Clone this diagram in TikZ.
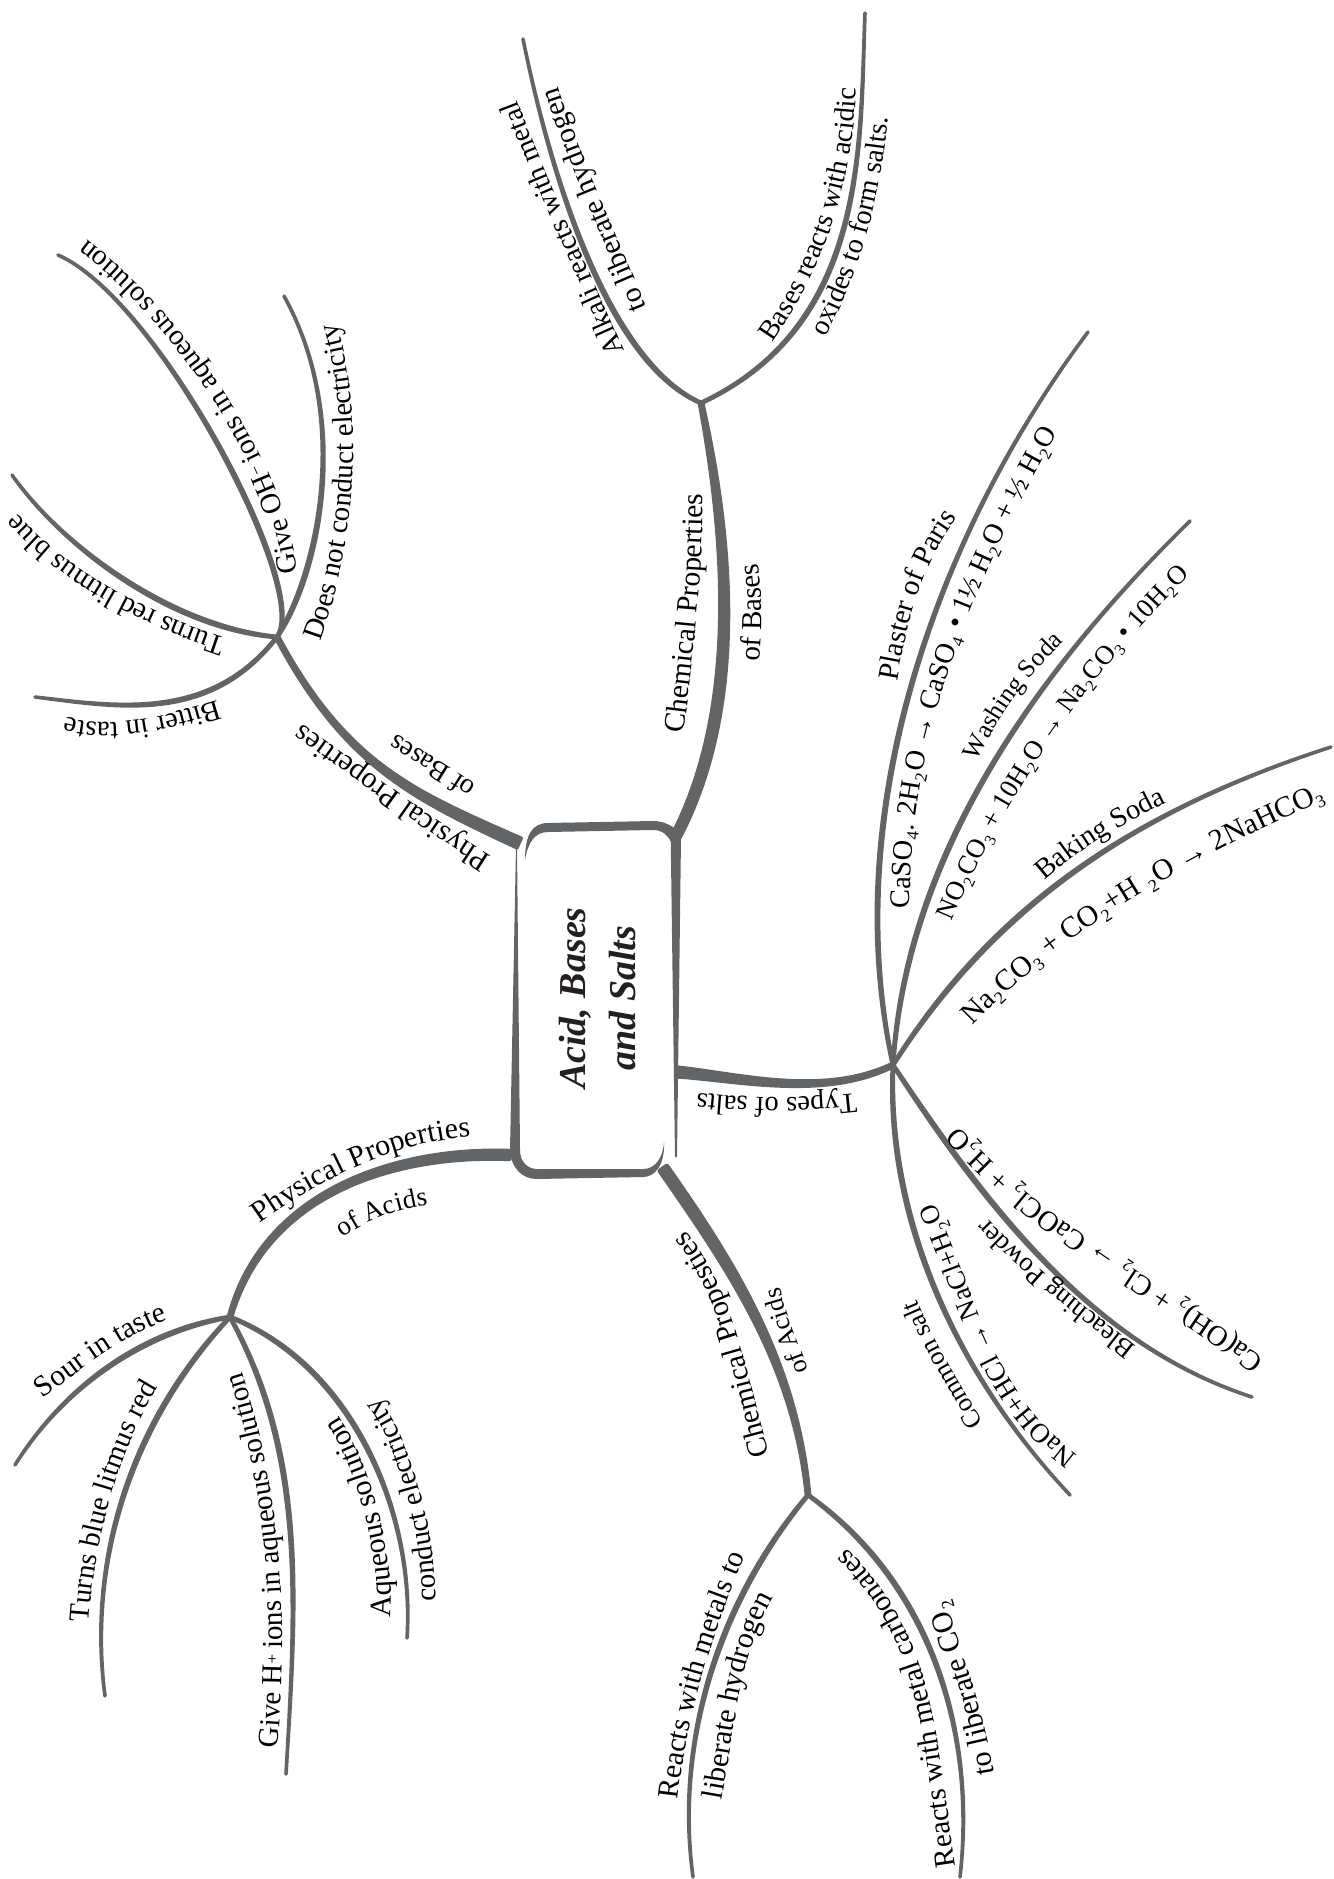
\documentclass[tikz,border=0pt]{standalone}
\usepackage{fontspec}
\setmainfont{Liberation Serif}
\newfontfamily\supfont{DejaVu Serif}
\usetikzlibrary{calc,decorations.text}
\definecolor{inkgray}{HTML}{636466}
\definecolor{inktext}{HTML}{231F20}
\tikzset{
  branch/.style={fill=inkgray,draw=inkgray,line width=1.8pt,line join=round,line cap=round},
  band/.style={fill=inkgray,draw=none},
  titlebox/.style={align=center,text=inktext,inner sep=0pt,font=\fontsize{19}{25}\selectfont\bfseries\itshape}
}
% from, point at 1/3, point at 2/3, to, half widths at the start, the two control points and the end
\newcommand{\taper}[8]{%
  \coordinate (tA) at ($3*(#2)-1.5*(#3)+0.3333*(#4)-0.8333*(#1)$);
  \coordinate (tB) at ($0.3333*(#1)-1.5*(#2)+3*(#3)-0.8333*(#4)$);
  \draw[branch] ($(#1)!#5!90:(tA)$) .. controls ($(tA)!#6!90:(tB)$) and ($(tB)!#7!90:(#4)$) .. ($(#4)!#8!-90:(tB)$)
     -- ($(#4)!#8!90:(tB)$) .. controls ($(tB)!#7!-90:(#4)$) and ($(tA)!#6!-90:(tB)$) .. ($(#1)!#5!-90:(tA)$) -- cycle;}
\newcommand{\leaf}[4]{\taper{#1}{#2}{#3}{#4}{0.3pt}{1.1pt}{0.2pt}{0pt}}
% size, then a baseline through four points, then the text
\newcommand{\lbl}[5]{%
  \coordinate (lA) at (#2);\coordinate (lB) at (#3);\coordinate (lC) at (#4);\coordinate (lD) at (#5);
  \coordinate (lP) at ($3*(lB)-1.5*(lC)+0.3333*(lD)-0.8333*(lA)$);
  \coordinate (lQ) at ($0.3333*(lA)-1.5*(lB)+3*(lC)-0.8333*(lD)$);
  \lblrun{#1}}
\newcommand{\lblrun}[2]{\path[decorate,decoration={text along path,text align={center},
   text={|\fontsize{#1}{#1}\selectfont|#2}}]
   ($(lA)!-24pt!(lP)$) -- (lA) .. controls (lP) and (lQ) .. (lD) -- ($(lD)!-24pt!(lQ)$);}
\begin{document}
\begin{tikzpicture}[x=0.5pt,y=-0.5pt]
\useasboundingbox (0,0) rectangle (1333,1879);
\coordinate (HL) at (277,637);
\coordinate (HCB) at (701,403);
\coordinate (HS) at (893,1065);
\coordinate (HCA) at (808,1495);
\coordinate (HPA) at (230,1317);
\coordinate (bTL) at (519,843);
\coordinate (bTR) at (675,838);
\coordinate (bR) at (677,1072);
\coordinate (bBR) at (663,1168);
\coordinate (bBL) at (510,1155);
\coordinate (eGive) at (58,255);
\coordinate (eDoes) at (284,296);
\coordinate (eRed) at (12,475);
\coordinate (eBitter) at (35,697);
\coordinate (eAlkali) at (523,39);
\coordinate (eBases) at (865,13);
\coordinate (ePlaster) at (1088,332);
\coordinate (eWash) at (1190,521);
\coordinate (eBaking) at (1331,747);
\coordinate (eBleach) at (1252,1397);
\coordinate (eCommon) at (1070,1495);
\coordinate (eMetals) at (693,1877);
\coordinate (eCarb) at (960,1877);
\coordinate (eSour) at (15,1465);
\coordinate (eBlue) at (105,1696);
\coordinate (eH) at (286,1774);
\coordinate (eAq) at (407,1638);
% central box
\fill[band] (525,860) .. controls (525,835) and (532,823) .. (548,823) -- (653,821)
  .. controls (662,821) and (670,824) .. (680,832) -- (671,842)
  .. controls (668,835) and (662,830) .. (653,830) -- (548,832)
  .. controls (535,832) and (528,842) .. (525,860) -- cycle;
\fill[band] (670.7,838) -- (681,838) -- (677,1157) -- (675,1157) -- cycle;
\fill[band] (516,847) -- (517,847) -- (520,1150) -- (510,1150) -- cycle;
\fill[band] (510,1150) .. controls (511,1168) and (522,1179) .. (537,1179) -- (643,1177)
  .. controls (655,1177) and (665,1165) .. (664,1142)
  .. controls (663,1158) and (655,1169) .. (643,1169) -- (537,1169)
  .. controls (528,1169) and (520,1162) .. (520,1150) -- cycle;
\node[titlebox,rotate=90] (title) at (598,998) {Acid, Bases\\and Salts};
% main branches
\taper{bTL}{425,797}{347,737}{HL}{2.6pt}{2pt}{1pt}{0.8pt}
\taper{bTR}{718,700}{722,550}{HCB}{2.1pt}{2.8pt}{2.2pt}{0.8pt}
\taper{bR}{745,1080}{820,1083}{HS}{2.4pt}{1.8pt}{1.2pt}{0.8pt}
\taper{bBR}{730,1270}{781,1376}{HCA}{2.4pt}{2.6pt}{1.2pt}{0.8pt}
\taper{bBL}{395,1167}{293,1218}{HPA}{2.2pt}{2.2pt}{1.6pt}{0.8pt}
% leaves
\leaf{HL}{258,527}{167,363}{eGive}
\leaf{HL}{312,550}{322,427}{eDoes}
\leaf{HL}{173,607}{80,547}{eRed}
\leaf{HL}{203,693}{120,705}{eBitter}
\leaf{HCB}{622,325}{563,192}{eAlkali}
\leaf{HCB}{816,298}{857,158}{eBases}
\leaf{HS}{886,803}{960,551}{ePlaster}
\leaf{HS}{943,861}{1050,679}{eWash}
\leaf{HS}{1011,923}{1157,820}{eBaking}
\leaf{HS}{990,1200}{1107,1318}{eBleach}
\leaf{HS}{912,1223}{975,1369}{eCommon}
\leaf{HCA}{735,1610}{695,1740}{eMetals}
\leaf{HCA}{905,1600}{955,1732}{eCarb}
\leaf{HPA}{145,1345}{72,1396}{eSour}
\leaf{HPA}{151,1429}{108,1558}{eBlue}
\leaf{HPA}{281,1460}{293,1612}{eH}
\leaf{HPA}{332,1394}{392,1510}{eAq}
% labels
\color{inktext}
\lbl{15}{490,855}{427,813}{365,769}{304,725}{Physical Properties}
\lbl{14}{477,785}{450,768}{423,751}{396,734}{of Bases}
\lbl{14.5}{298,577}{260,455}{181,333}{83,237}{Give OH|\supfont|⁻|| |\fontsize{14.5}{14.5}\selectfont|ions in aqueous solution}
\lbl{14.4}{320,642}{346,540}{353,429}{337,323}{Does not conduct electricity}
\lbl{14.4}{227,639}{151,609}{79,568}{17,513}{Turns red litmus blue}
\lbl{14.4}{218,700}{168,714}{117,722}{65,717}{Bitter in taste}
\lbl{14.8}{684,731}{693,654}{700,575}{703,497}{Chemical Properties}
\lbl{14.5}{759,662}{761,629}{761,596}{758,563}{of Bases}
\lbl{14.2}{624,350}{587,267}{551,184}{517,100}{Alkali reacts with metal}
\lbl{14.8}{647,308}{616,235}{585,161}{558,86}{to liberate hydrogen}
\lbl{14.2}{772,343}{817,264}{845,179}{856,88}{Bases reacts with acidic}
\lbl{14.2}{825,338}{856,268}{877,193}{888,117}{oxides to form salts.}
\lbl{14.3}{856,1093}{803,1097}{750,1097}{697,1093}{Types of salts}
\lbl{14.6}{897,682}{909,624}{928,568}{958,517}{Plaster of Paris}
\lbl{14.2}{910,907}{929,741}{982,583}{1057,434}{CaSO₄. 2H₂O → CaSO₄ • 1½ H₂O + ½ H₂O}
\lbl{12.8}{977,761}{1003,715}{1030,678}{1064,642}{Washing Soda}
\lbl{13.4}{953,919}{1016,795}{1095,681}{1188,577}{NO₂CO₃ + 10H₂O → Na₂CO₃ • 10H₂O}
\lbl{14.2}{1045,880}{1082,851}{1122,826}{1166,803}{Baking Soda}
\lbl{14.8}{970,1028}{1078,935}{1200,860}{1329,798}{Na₂CO₃ + CO₂+H ₂O → 2NaHCO₃}
\lbl{14.4}{1255,1352}{1156,1284}{1057,1216}{967,1135}{Ca(OH)₂ + Cl₂ → CaOCl₂ + H₂O}
\lbl{13.4}{1137,1347}{1085,1306}{1036,1265}{987,1218}{Bleaching Powder}
\lbl{13.6}{1078,1455}{1012,1382}{971,1294}{935,1203}{NaOH+HCl → NaCl+H₂O}
\lbl{13.1}{983,1422}{957,1379}{934,1337}{917,1300}{Common salt}
\lbl{14.7}{769,1452}{749,1377}{725,1300}{687,1233}{Chemical Propesties}
\lbl{13}{808,1370}{798,1343}{788,1316}{780,1288}{of Acids}
\lbl{14.8}{678,1800}{692,1716}{715,1635}{745,1555}{Reacts with metals to}
\lbl{15}{722,1800}{733,1731}{747,1663}{773,1597}{liberate hydrogen}
\lbl{14.7}{955,1862}{939,1748}{912,1645}{850,1551}{Reacts with metal carbonates}
\lbl{15}{995,1778}{982,1717}{965,1660}{945,1595}{to liberate CO₂}
\lbl{15}{262,1222}{326,1182}{395,1152}{468,1137}{Physical Properties}
\lbl{13.5}{343,1238}{370,1222}{398,1211}{428,1205}{of Acids}
\lbl{14.8}{43,1398}{82,1369}{124,1341}{168,1320}{Sour in taste}
\lbl{14.4}{89,1622}{100,1541}{123,1460}{158,1387}{Turns blue litmus red}
\lbl{14.5}{277,1756}{282,1624}{271,1493}{240,1365}{Give H|\supfont|⁺|| |\fontsize{14.5}{14.5}\selectfont|ions in aqueous solution}
\lbl{15}{390,1618}{386,1547}{366,1472}{338,1415}{Aqueous solution}
\lbl{14.5}{435,1602}{429,1530}{407,1451}{377,1397}{conduct electricity}
\end{tikzpicture}
\end{document}
